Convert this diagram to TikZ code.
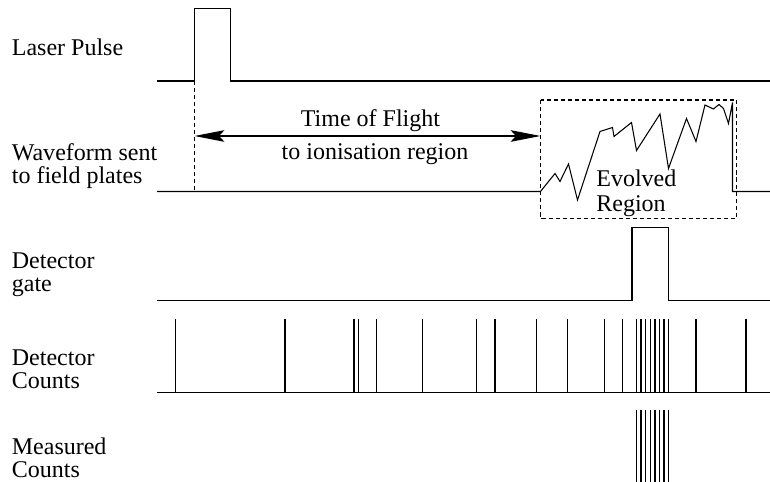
\documentclass[tikz,border=0pt]{standalone}
\usepackage{fontspec}
\setmainfont{Liberation Serif}
\usetikzlibrary{arrows.meta}

\begin{document}
\begin{tikzpicture}[
        trace/.style={line width=0.6pt},
        guide/.style={line width=0.6pt, dash pattern=on 2.3pt off 1.7pt},
        lbl/.style={anchor=base west, inner sep=0pt, align=left,
            font=\fontsize{13.66pt}{13.26pt}\selectfont},
        tof/.style={line width=0.6pt, {Stealth[length=17pt, width=6.6pt, inset=3pt]}-{Stealth[length=17pt, width=6.6pt, inset=3pt]}}
    ]
        \useasboundingbox (0,0) rectangle (15.4,9.64);

        % row labels (base = last line)
        \node[lbl] (laser) at (0.23,8.53) {Laser Pulse};
        \node[lbl] (wave) at (0.23,5.97) {Waveform sent\\to field plates};
        \node[lbl] (gate) at (0.23,3.81) {Detector\\gate};
        \node[lbl] (counts) at (0.23,1.87) {Detector\\Counts};
        \node[lbl] (measured) at (0.23,0.09) {Measured\\Counts};

        % laser pulse
        \draw[trace] (3.14,8.02) -- (3.89,8.02) -- (3.89,9.47) -- (4.61,9.47) -- (4.61,8.02) -- (15.4,8.02);

        % waveform with evolved region
        \draw[trace] (3.14,5.81) -- (10.81,5.81) -- (11.10,6.17) -- (11.20,6.01) -- (11.37,6.36)
            -- (11.55,5.64) -- (12.00,7.01) -- (12.25,7.09) -- (12.28,6.91) -- (12.63,7.19)
            -- (12.73,6.63) -- (13.20,7.36) -- (13.37,6.27) -- (13.73,7.27) -- (13.92,6.81)
            -- (14.10,7.54) -- (14.27,7.46) -- (14.38,7.55) -- (14.47,7.47) -- (14.57,7.17)
            -- (14.65,7.59) -- (14.65,5.81) -- (15.4,5.81);
        \draw[guide] (3.89,8.02) -- (3.89,5.81);% start of flight
        \draw[guide] (10.81,7.64) rectangle (14.73,5.27);
        \node[lbl] (evolved) at (11.92,5.41) {Evolved\\[1pt]Region};

        % time of flight
        \coordinate (tofA) at (3.89,6.92);
        \coordinate (tofB) at (10.81,6.92);
        \draw[tof] (tofA) -- (tofB);
        \node[lbl, anchor=base] (tofup) at (7.41,7.11) {Time of Flight};
        \node[lbl, anchor=base] (tofdown) at (7.5,6.44) {to ionisation region};

        % detector gate
        \draw[trace] (3.14,3.63) -- (12.64,3.63) -- (12.64,5.09) -- (13.37,5.09) -- (13.37,3.63) -- (15.4,3.63);

        % detector counts
        \draw[trace] (3.14,1.79) -- (15.4,1.79);
        \foreach \x in {3.51,5.70,7.08,7.17,7.53,8.45,9.53,9.90,10.73,11.35,12.09,12.45,
                12.73,12.82,12.91,13.01,13.10,13.19,13.28,13.37,13.92,14.92}
            \draw[trace] (\x,1.79) -- (\x,3.25);

        % measured counts (inside gate)
        \foreach \x in {12.73,12.82,12.91,13.01,13.10,13.19,13.28,13.37}
            \draw[trace] (\x,0) -- (\x,1.44);
    \end{tikzpicture}
\end{document}
